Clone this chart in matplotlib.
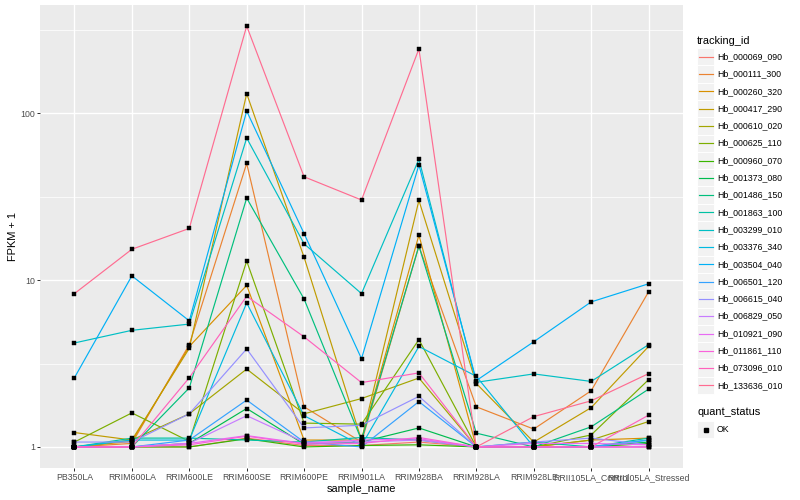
import numpy as np
import matplotlib
matplotlib.use("Agg")
import matplotlib.pyplot as plt
from matplotlib.patches import Rectangle
from matplotlib.lines import Line2D

plt.rcParams['font.family'] = ['Liberation Sans', 'DejaVu Sans']

samples = ["PB350LA", "RRIM600LA", "RRIM600LE", "RRIM600SE", "RRIM600PE",
           "RRIM901LA", "RRIM928BA", "RRIM928LA", "RRIM928LE",
           "RRII105LA_Control", "RRII105LA_Stressed"]

tracking_ids = ["Hb_000069_090", "Hb_000111_300", "Hb_000260_320", "Hb_000417_290",
                "Hb_000610_020", "Hb_000625_110", "Hb_000960_070", "Hb_001373_080",
                "Hb_001486_150", "Hb_001863_100", "Hb_003299_010", "Hb_003376_340",
                "Hb_003504_040", "Hb_006501_120", "Hb_006615_040", "Hb_006829_050",
                "Hb_010921_090", "Hb_011861_110", "Hb_073096_010", "Hb_133636_010"]

# FPKM + 1 values, one list per tracking id (order of samples above)
hb_000069_090 = [1.0, 1.0, 1.0, 1.13, 1.02, 1.02, 1.07, 1.0, 1.0, 1.0, 1.0]
hb_000111_300 = [1.0, 1.05, 4.1, 50, 1.74, 1.07, 16, 1.74, 1.28, 2.17, 8.5]
hb_000260_320 = [1.0, 1.08, 4.0, 9.3, 1.1, 1.1, 18.6, 1.0, 1.0, 1.1, 1.13]
hb_000417_290 = [1.22, 1.1, 3.9, 131, 13.7, 1.1, 30, 2.4, 1.07, 1.72, 4.0]
hb_000610_020 = [1.0, 1.1, 1.58, 2.93, 1.58, 1.95, 2.59, 1.0, 1.0, 1.1, 1.42]
hb_000625_110 = [1.07, 1.6, 1.08, 13, 1.39, 1.37, 4.4, 1.0, 1.0, 1.18, 2.53]
hb_000960_070 = [1.0, 1.0, 1.0, 1.12, 1.0, 1.02, 1.03, 1.0, 1.0, 1.0, 1.05]
hb_001373_080 = [1.0, 1.0, 1.05, 1.7, 1.04, 1.07, 1.30, 1.0, 1.0, 1.0, 1.07]
hb_001486_150 = [1.0, 1.0, 2.26, 31, 7.7, 1.1, 16, 1.21, 1.0, 1.32, 2.22]
hb_001863_100 = [1.0, 1.13, 1.13, 1.1, 1.07, 1.14, 1.1, 1.0, 1.07, 1.0, 1.13]
hb_003299_010 = [4.2, 5.0, 5.45, 71, 16.5, 8.3, 53, 2.44, 2.74, 2.47, 4.1]
hb_003376_340 = [1.0, 1.1, 1.1, 7.3, 1.54, 1.02, 4.0, 2.65, 1.0, 1.0, 1.1]
hb_003504_040 = [2.6, 10.6, 5.7, 103, 19, 3.38, 49, 2.5, 4.27, 7.4, 9.5]
hb_006501_120 = [1.0, 1.0, 1.1, 1.91, 1.07, 1.0, 1.87, 1.0, 1.0, 1.0, 1.1]
hb_006615_040 = [1.07, 1.07, 1.58, 3.87, 1.30, 1.35, 2.01, 1.0, 1.07, 1.13, 1.03]
hb_006829_050 = [1.0, 1.0, 1.05, 1.54, 1.07, 1.07, 1.1, 1.0, 1.0, 1.0, 1.0]
hb_010921_090 = [1.0, 1.0, 1.05, 1.17, 1.05, 1.1, 1.12, 1.0, 1.05, 1.05, 1.03]
hb_011861_110 = [1.0, 1.0, 1.03, 1.16, 1.04, 1.05, 1.14, 1.0, 1.0, 1.0, 1.0]
hb_073096_010 = [1.0, 1.0, 2.6, 8.0, 4.57, 2.43, 2.78, 1.0, 1.0, 1.0, 1.55]
hb_133636_010 = [8.3, 15.3, 20.4, 333, 41.6, 30.2, 243, 1.0, 1.52, 1.89, 2.75]

series = [hb_000069_090, hb_000111_300, hb_000260_320, hb_000417_290, hb_000610_020,
          hb_000625_110, hb_000960_070, hb_001373_080, hb_001486_150, hb_001863_100,
          hb_003299_010, hb_003376_340, hb_003504_040, hb_006501_120, hb_006615_040,
          hb_006829_050, hb_010921_090, hb_011861_110, hb_073096_010, hb_133636_010]

quant_status = ["OK"]

colors = ["#F8766D", "#EA8331", "#D89000", "#C09B00", "#A3A500", "#7CAE00", "#39B600",
          "#00BB4E", "#00BF7D", "#00C1A3", "#00BFC4", "#00BAE0", "#00B0F6", "#35A2FF",
          "#9590FF", "#C77CFF", "#E76BF3", "#FA62DB", "#FF62BC", "#FF6C91"]

W, H = 800, 500
fig = plt.figure(figsize=(8, 5), dpi=100)
PX = 0.72  # points per pixel at 100 dpi

def fx(px):
    return px / W

def fy(py):
    return 1 - py / H

L, R, T, B = 40, 683, 5, 468
ax = fig.add_axes([fx(L), fy(B), fx(R - L), (B - T) / H])
ax.set_facecolor("#EBEBEB")
for s in ax.spines.values():
    s.set_visible(False)

x = np.arange(1, len(samples) + 1)
for vals, c in zip(series, colors):
    ax.plot(x, vals, color=c, lw=0.85, zorder=3, solid_capstyle='butt')
for vals in series:
    ax.plot(x, vals, ls='none', marker='s', ms=3.0, mfc='black', mec='black',
            mew=0.3, zorder=4)

ax.set_yscale('log')
allv = np.concatenate([np.asarray(v, float) for v in series])
lo, hi = np.log10(allv.min()), np.log10(allv.max())
pad = 0.05 * (hi - lo)
ax.set_ylim(10 ** (lo - pad), 10 ** (hi + pad))
ax.set_xlim(0.4, len(samples) + 0.6)

ax.set_xticks(x)
ax.set_xticklabels(samples)
ax.set_yticks([1, 10, 100])
ax.set_yticklabels(["1", "10", "100"])
ax.yaxis.set_minor_locator(matplotlib.ticker.FixedLocator([10 ** 0.5, 10 ** 1.5, 10 ** 2.5]))
ax.yaxis.set_minor_formatter(matplotlib.ticker.NullFormatter())
ax.tick_params(axis='both', which='major', length=2.75 * PX, width=1.0 * PX,
               color='#333333', labelcolor='#4D4D4D', labelsize=8.8 * PX, pad=2.2 * PX)
ax.tick_params(axis='y', which='minor', length=0)
ax.grid(True, which='major', color='white', lw=1.4 * PX)
ax.grid(True, which='minor', axis='y', color='white', lw=0.7 * PX)
ax.set_axisbelow(True)

fig.text(fx((L + R) / 2), fy(489), "sample_name", ha='center', va='center',
         fontsize=11 * PX, color='black')
fig.text(fx(13), fy((T + B) / 2), "FPKM + 1", ha='center', va='center',
         rotation=90, fontsize=11 * PX, color='black')

# legend (ggplot style)
fig.text(fx(697), fy(40.5), "tracking_id", ha='left', va='center',
         fontsize=11 * PX, color='black')
key = 17.3
y0 = 56.7
for i, (name, c) in enumerate(zip(tracking_ids, colors)):
    yc = y0 + i * key
    fig.patches.append(Rectangle((fx(697), fy(yc + key / 2)), key / W, key / H,
                                 transform=fig.transFigure, facecolor="#F2F2F2",
                                 edgecolor='white', lw=0.7, zorder=1))
    fig.lines.append(Line2D([fx(697 + 0.1 * key), fx(697 + 0.9 * key)], [fy(yc), fy(yc)],
                            transform=fig.transFigure, color=c, lw=0.85, zorder=2))
    fig.text(fx(717), fy(yc), name, ha='left', va='center', fontsize=8.8 * PX,
             color='black')

fig.text(fx(697), fy(412), "quant_status", ha='left', va='center',
         fontsize=11 * PX, color='black')
for j, q in enumerate(quant_status):
    yc = 429.5 + j * key
    fig.patches.append(Rectangle((fx(697), fy(yc + key / 2)), key / W, key / H,
                                 transform=fig.transFigure, facecolor="#F2F2F2",
                                 edgecolor='white', lw=0.7, zorder=1))
    fig.lines.append(Line2D([fx(697 + key / 2)], [fy(yc)], transform=fig.transFigure,
                            marker='s', ms=3.0, color='black', ls='none', zorder=2))
    fig.text(fx(717), fy(yc), q, ha='left', va='center', fontsize=8.8 * PX,
             color='black')

fig.savefig("out.png", dpi=100)
